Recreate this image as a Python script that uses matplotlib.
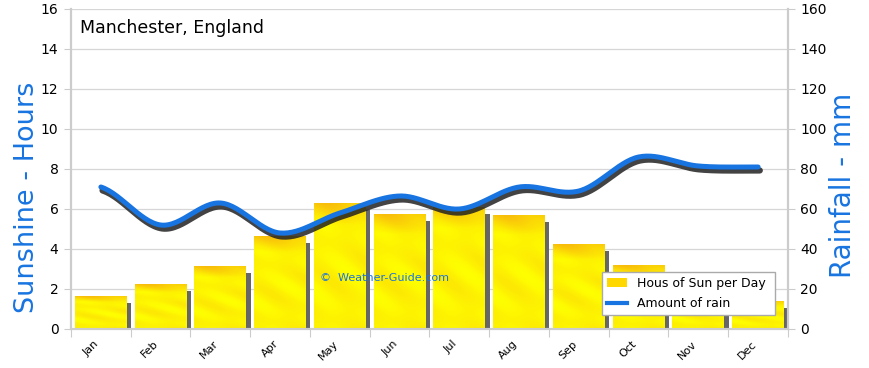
import numpy as np
import matplotlib
matplotlib.use("Agg")
import matplotlib.pyplot as plt
import matplotlib.patheffects as pe
from matplotlib.patches import Patch
from matplotlib.lines import Line2D

months = ["Jan", "Feb", "Mar", "Apr", "May", "Jun", "Jul", "Aug", "Sep", "Oct", "Nov", "Dec"]
sun_hours = [1.65, 2.25, 3.15, 4.65, 6.3, 5.75, 6.1, 5.7, 4.25, 3.2, 2.0, 1.4]
rain_mm = [71, 52, 63, 48, 58, 66.5, 60, 71, 69, 86, 81.5, 81]
left_ticks = [0, 2, 4, 6, 8, 10, 12, 14, 16]
right_ticks = [0, 20, 40, 60, 80, 100, 120, 140, 160]

BLUE = "#1874e0"
plt.rcParams["font.family"] = ["DejaVu Sans"]

fig = plt.figure(figsize=(8.7, 3.68), dpi=100)
ax = fig.add_axes([71/870, 1-329/368, (788-71)/870, 320/368])
ax2 = ax.twinx()

x = np.arange(len(months))

# grid
for t in left_ticks[1:]:
    ax.axhline(t, color="#d6d6d6", lw=0.9, zorder=0)

# bar shadows
W = 0.87
ax.bar(x + 0.07, [max(h - 0.35, 0) for h in sun_hours], width=W, color="#666666", zorder=1)
bars = ax.bar(x, sun_hours, width=W, color="#ffee00", zorder=2)

# gradient texture on bars
ny, nx = 200, 60
yy, xx = np.mgrid[0:1:ny*1j, 0:1:nx*1j]
streak = 0.5 + 0.5*np.sin(16*(yy + 0.35*xx)) * np.sin(5*(yy - 0.2*xx))
topfade = np.clip((yy - 0.82) / 0.18, 0, 1)
mix = np.clip(0.3*streak + 0.6*topfade, 0, 1)
c1 = np.array([1.0, 1.0, 0.0])
c2 = np.array([0.97, 0.70, 0.05])
img = c1[None, None, :]*(1-mix[..., None]) + c2[None, None, :]*mix[..., None]
for b in bars:
    x0, w, h = b.get_x(), b.get_width(), b.get_height()
    im = ax.imshow(img, extent=[x0, x0 + w, 0, h], origin="lower", aspect="auto", zorder=2.5)
    im.set_clip_path(b)
ax.set_xlim(-0.5, 11.5)
ax.set_ylim(0, 16)
ax2.set_ylim(0, 160)

# smooth rain curve (rendering only)
def catmull(xs, ys, n=30):
    xs = np.asarray(xs, float); ys = np.asarray(ys, float)
    px = np.concatenate([[2*xs[0]-xs[1]], xs, [2*xs[-1]-xs[-2]]])
    py = np.concatenate([[ys[0]], ys, [ys[-1]]])
    ox, oy = [], []
    for i in range(1, len(px)-2):
        t = np.linspace(0, 1, n, endpoint=False)
        for p, o in ((px, ox), (py, oy)):
            p0, p1, p2, p3 = p[i-1], p[i], p[i+1], p[i+2]
            o.extend(0.5*((2*p1) + (-p0+p2)*t + (2*p0-5*p1+4*p2-p3)*t**2 + (-p0+3*p1-3*p2+p3)*t**3))
    ox.append(xs[-1]); oy.append(ys[-1])
    return np.array(ox), np.array(oy)

sx, sy = catmull(x, rain_mm)
ax2.plot(sx, sy, color=BLUE, lw=3.6, solid_capstyle="round", zorder=5,
         path_effects=[pe.SimpleLineShadow(offset=(1.2, -2.5), shadow_color="#222222", alpha=0.85, linewidth=4.5),
                       pe.Normal()])

# axes styling
for a in (ax, ax2):
    a.spines["top"].set_visible(False)
    for s in ("left", "right", "bottom"):
        a.spines[s].set_color("#cccccc")
        a.spines[s].set_linewidth(1.5)

ax.set_yticks(left_ticks)
ax.set_yticklabels([str(t) for t in left_ticks], fontsize=10)
ax2.set_yticks(right_ticks)
ax2.set_yticklabels([str(t) for t in right_ticks], fontsize=10)
ax.tick_params(axis="y", length=5, color="#cccccc", pad=4)
ax2.tick_params(axis="y", length=5, color="#cccccc", pad=4)

ax.set_xticks(np.arange(-0.5, 12, 1), minor=False)
ax.set_xticklabels([])
ax.tick_params(axis="x", length=6, color="#cccccc")
ax.set_xticks(x, minor=True)
ax.set_xticklabels(months, minor=True, rotation=45, ha="right", va="top", fontsize=8)
ax.tick_params(axis="x", which="minor", length=0, pad=7)
ax2.set_zorder(ax.get_zorder() + 1)
ax2.patch.set_visible(False)

fig.text(27/870, 1-197/368, "Sunshine - Hours", rotation=90, color=BLUE, fontsize=19.5,
         ha="center", va="center")
fig.text(843/870, 1-185/368, "Rainfall - mm", rotation=90, color=BLUE, fontsize=20,
         ha="center", va="center")

fig.text(80/870, 1-28/368, "Manchester, England", fontsize=12.5, va="center", ha="left", color="black")
fig.text(385/870, 1-278/368, "\u00a9  Weather-Guide.com", fontsize=8, va="center", ha="center",
         color=BLUE, zorder=6)

# legend
handles = [Patch(facecolor="#ffd800", edgecolor="none"), Line2D([], [], color=BLUE, lw=3)]
leg = ax2.legend(handles, ["Hous of Sun per Day", "Amount of rain"], loc="lower left",
                 bbox_to_anchor=((602-71)/717, (329-315)/320, (775-602)/717, 50/320),
                 mode="expand", fontsize=9, frameon=True, fancybox=False, borderaxespad=0,
                 handlelength=1.6, labelspacing=0.6, framealpha=1)
leg.get_frame().set_edgecolor("#aaaaaa")
leg.get_frame().set_linewidth(1)
leg.set_zorder(10)

fig.savefig("out.png", dpi=100)
